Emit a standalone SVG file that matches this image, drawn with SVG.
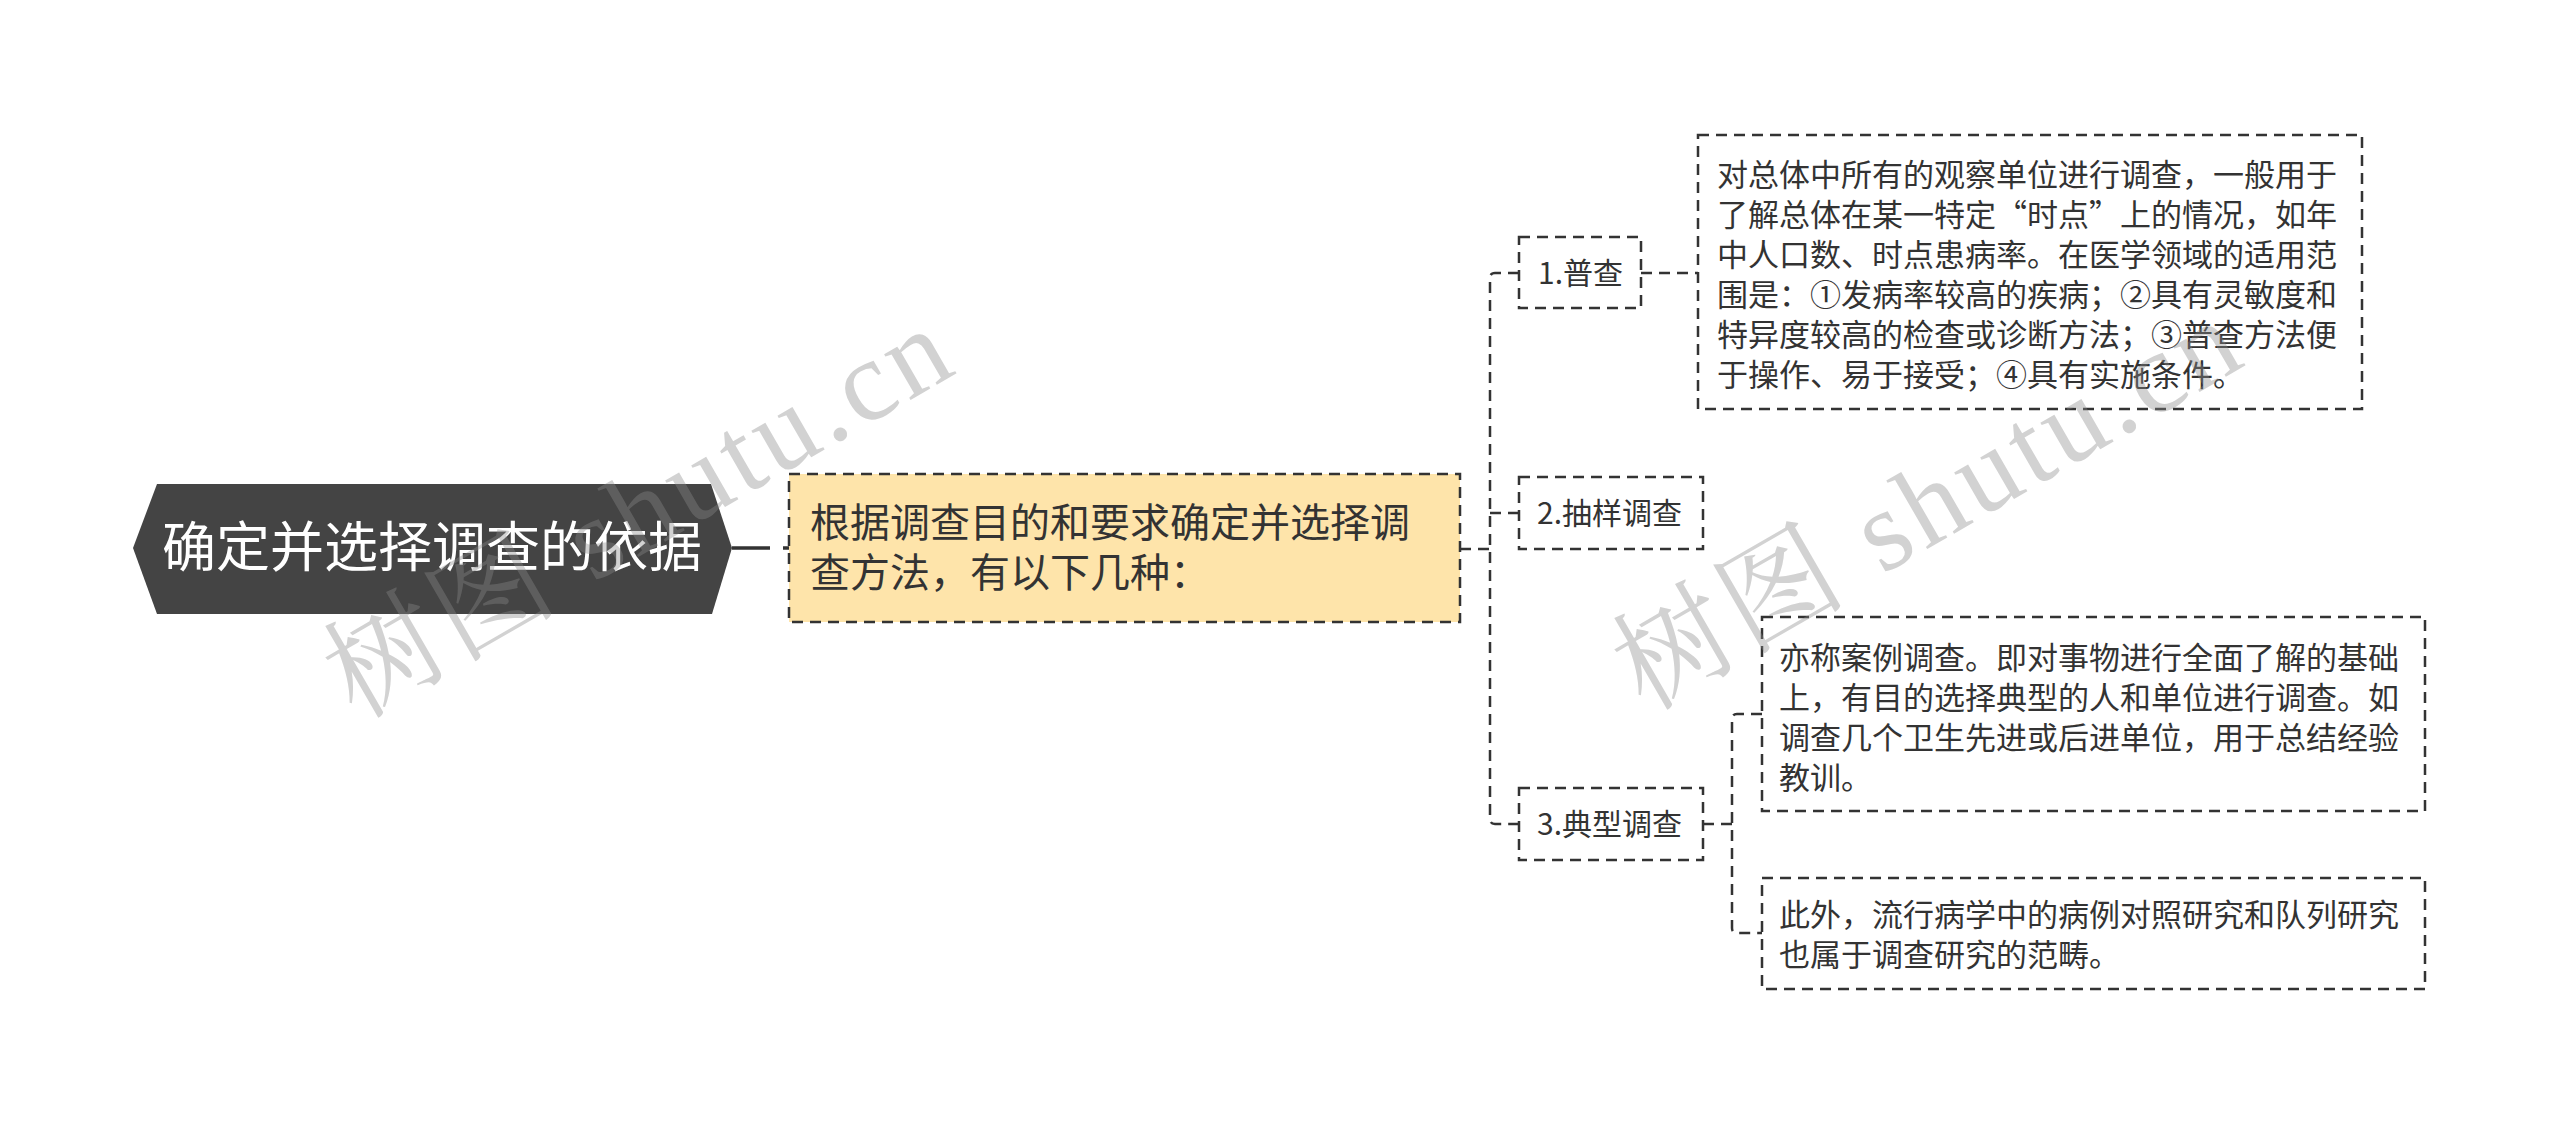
<svg xmlns="http://www.w3.org/2000/svg" width="2560" height="1127" viewBox="0 0 2560 1127">
<style>
.t{font-family:"Noto Sans CJK SC","Noto Sans",sans-serif;fill:#333333}
.box{fill:#ffffff;stroke:#333333;stroke-width:2.5;stroke-dasharray:11 7}
.conn{fill:none;stroke:#333333;stroke-width:2.5;stroke-dasharray:11 7}
.wm{font-family:"Liberation Serif","Noto Serif CJK SC","Noto Sans CJK SC",serif;font-size:115px;fill:#8a8a8a;opacity:0.38;letter-spacing:5px}
</style>
<rect width="2560" height="1127" fill="#ffffff"/>
<g id="connectors">
<path d="M732 548 H789" fill="none" stroke="#333333" stroke-width="3.5" stroke-dasharray="38 13 10 0"/>
<path class="conn" d="M1460 549 H1490"/>
<path class="conn" d="M1519 273 H1495 Q1490 273 1490 278 V819 Q1490 824 1495 824 H1519"/>
<path class="conn" d="M1490 513 H1519"/>
<path class="conn" d="M1641 273 H1698"/>
<path class="conn" d="M1703 824 H1732"/>
<path class="conn" d="M1762 714 H1737 Q1732 714 1732 719 V928 Q1732 933 1737 933 H1762"/>
</g>
<g id="root">
<polygon points="133,548 157,484 711,484 732,548 712,614 157,614" fill="#444444"/>
<text x="432" y="567" text-anchor="middle" font-family="'Noto Sans CJK SC','Noto Sans',sans-serif" font-size="54" fill="#ffffff">确定并选择调查的依据</text>
</g>
<g id="main">
<rect x="789" y="474" width="671" height="148" fill="#fee4aa" stroke="#333333" stroke-width="2.5" stroke-dasharray="11 7"/>
<text class="t" font-size="40"><tspan x="810" y="537">根据调查目的和要求确定并选择调</tspan><tspan x="810" y="587">查方法，有以下几种：</tspan></text>
</g>
<g id="n1">
<rect class="box" x="1519" y="237" width="122" height="71"/>
<text class="t" x="1538" y="284" font-size="30">1.普查</text>
</g>
<g id="n2">
<rect class="box" x="1519" y="477" width="184" height="72"/>
<text class="t" x="1537" y="524" font-size="30">2.抽样调查</text>
</g>
<g id="n3">
<rect class="box" x="1519" y="788" width="184" height="72"/>
<text class="t" x="1537" y="835" font-size="30">3.典型调查</text>
</g>
<g id="d1">
<rect class="box" x="1698" y="135" width="664" height="274"/>
<text class="t" font-size="31"><tspan x="1717" y="186">对总体中所有的观察单位进行调查，一般用于</tspan><tspan x="1717" y="226">了解总体在某一特定“时点”上的情况，如年</tspan><tspan x="1717" y="266">中人口数、时点患病率。在医学领域的适用范</tspan><tspan x="1717" y="306">围是：①发病率较高的疾病；②具有灵敏度和</tspan><tspan x="1717" y="346">特异度较高的检查或诊断方法；③普查方法便</tspan><tspan x="1717" y="386">于操作、易于接受；④具有实施条件。</tspan></text>
</g>
<g id="d2">
<rect class="box" x="1762" y="617" width="663" height="194"/>
<text class="t" font-size="31"><tspan x="1779" y="669">亦称案例调查。即对事物进行全面了解的基础</tspan><tspan x="1779" y="709">上，有目的选择典型的人和单位进行调查。如</tspan><tspan x="1779" y="749">调查几个卫生先进或后进单位，用于总结经验</tspan><tspan x="1779" y="789">教训。</tspan></text>
</g>
<g id="d3">
<rect class="box" x="1762" y="878" width="663" height="111"/>
<text class="t" font-size="31"><tspan x="1779" y="926">此外，流行病学中的病例对照研究和队列研究</tspan><tspan x="1779" y="966">也属于调查研究的范畴。</tspan></text>
</g>
<g id="watermarks">
<text class="wm" x="356" y="720" transform="rotate(-30 356 720)">树图 shutu.cn</text>
<text class="wm" x="1645" y="712" transform="rotate(-30 1645 712)">树图 shutu.cn</text>
</g>
</svg>
